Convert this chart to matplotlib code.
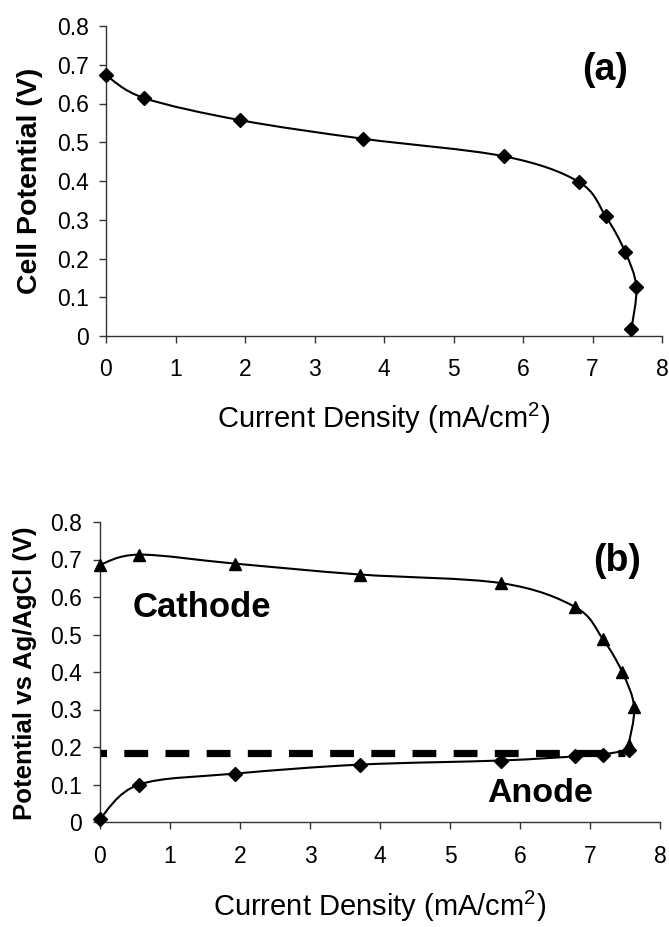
import numpy as np
import matplotlib
matplotlib.use("Agg")
import matplotlib.pyplot as plt
from matplotlib.path import Path
from matplotlib.patches import PathPatch
from matplotlib.ticker import FuncFormatter

plt.rcParams['font.family'] = ['Liberation Sans', 'DejaVu Sans']
plt.rcParams['mathtext.fontset'] = 'custom'
plt.rcParams['mathtext.rm'] = 'Liberation Sans'
plt.rcParams['mathtext.it'] = 'Liberation Sans:italic'
plt.rcParams['mathtext.bf'] = 'Liberation Sans:bold'

# ---- data ----
cell_x = [0.0, 0.55, 1.93, 3.70, 5.72, 6.80, 7.19, 7.47, 7.63, 7.56]
cell_y = [0.673, 0.614, 0.557, 0.509, 0.464, 0.398, 0.309, 0.217, 0.127, 0.018]

cath_x = [0.0, 0.56, 1.93, 3.71, 5.73, 6.79, 7.18, 7.46, 7.63, 7.55]
cath_y = [0.686, 0.713, 0.689, 0.660, 0.637, 0.573, 0.489, 0.400, 0.307, 0.205]

anode_x = [0.0, 0.56, 1.93, 3.71, 5.73, 6.79, 7.18, 7.55]
anode_y = [0.009, 0.100, 0.129, 0.153, 0.164, 0.175, 0.180, 0.192]

ref_x = [0.0, 7.5]
ref_y = [0.184, 0.184]

x_ticks = [0, 1, 2, 3, 4, 5, 6, 7, 8]
y_ticks = [0.0, 0.1, 0.2, 0.3, 0.4, 0.5, 0.6, 0.7, 0.8]

xlabel = "Current Density (mA/cm$^{2}$)"
ylabel_a = "Cell Potential (V)"
ylabel_b = "Potential vs Ag/AgCl (V)"


def smooth_path(xs, ys):
    pts = np.column_stack([xs, ys]).astype(float)
    n = len(pts)
    verts = [pts[0]]
    codes = [Path.MOVETO]
    for i in range(n - 1):
        p0 = pts[i - 1] if i > 0 else pts[i]
        p1 = pts[i]
        p2 = pts[i + 1]
        p3 = pts[i + 2] if i + 2 < n else pts[i + 1]
        c1 = p1 + (p2 - p0) / 6.0
        c2 = p2 - (p3 - p1) / 6.0
        verts += [c1, c2, p2]
        codes += [Path.CURVE4] * 3
    return Path(verts, codes)


def style_axes(ax, pad_y, pad_x):
    ax.set_xlim(0, 8)
    ax.set_ylim(0, 0.8)
    ax.set_xticks(x_ticks)
    ax.set_yticks(y_ticks)
    ax.yaxis.set_major_formatter(FuncFormatter(lambda v, p: f"{v:g}"))
    for s in ['top', 'right']:
        ax.spines[s].set_visible(False)
    for s in ['left', 'bottom']:
        ax.spines[s].set_linewidth(1.0)
        ax.spines[s].set_color('0.2')
    ax.tick_params(axis='both', direction='out', length=5, width=1.0,
                   color='0.2', labelsize=16.5)
    ax.tick_params(axis='y', pad=pad_y)
    ax.tick_params(axis='x', pad=pad_x)


def draw_series(ax, xs, ys, marker, ms):
    patch = PathPatch(smooth_path(xs, ys), fill=False, lw=1.5, ec='black',
                      transform=ax.transData, clip_on=False, zorder=3)
    ax.add_patch(patch)
    ax.plot(xs, ys, linestyle='none', marker=marker, ms=ms, color='black',
            mec='black', clip_on=False, zorder=4)


fig = plt.figure(figsize=(6.69, 9.27), dpi=100)

# ---- panel (a) ----
ax1 = fig.add_axes([106 / 669, 1 - 336 / 927, 556 / 669, 310 / 927])
style_axes(ax1, pad_y=7.5, pad_x=11)
draw_series(ax1, cell_x, cell_y, 'D', 7.3)
ax1.set_xlabel(xlabel, fontsize=21, va='baseline')
ax1.xaxis.set_label_coords(0.5, (336 - 428) / 310)
ax1.set_ylabel(ylabel_a, fontsize=20.5, fontweight='bold', va='baseline')
ax1.yaxis.set_label_coords((37 - 106) / 556, 0.502)
ax1.text((605 - 106) / 556, (336 - 70) / 310, "(a)", transform=ax1.transAxes,
         fontsize=27, fontweight='bold', ha='center', va='center')

# ---- panel (b) ----
ax2 = fig.add_axes([100 / 669, 1 - 822 / 927, 560 / 669, 300 / 927])
style_axes(ax2, pad_y=8, pad_x=11.5)
ax2.plot(ref_x, ref_y, color='black', lw=5.2,
         linestyle=(2.4, (3.3, 2.4)), solid_capstyle='butt', zorder=2)
draw_series(ax2, anode_x, anode_y, 'D', 7.3)
draw_series(ax2, cath_x, cath_y, '^', 9)
ax2.set_xlabel(xlabel, fontsize=21, va='baseline')
ax2.xaxis.set_label_coords(0.5, (822 - 916) / 300)
ax2.set_ylabel(ylabel_b, fontsize=18.5, fontweight='bold', va='baseline')
ax2.yaxis.set_label_coords((32 - 100) / 560, 0.495)
ax2.text((617 - 100) / 560, (822 - 561) / 300, "(b)", transform=ax2.transAxes,
         fontsize=27, fontweight='bold', ha='center', va='center')
ax2.text((202 - 100) / 560, (822 - 617) / 300, "Cathode", transform=ax2.transAxes,
         fontsize=25, fontweight='bold', ha='center', va='baseline')
ax2.text((540 - 100) / 560, (822 - 802) / 300, "Anode", transform=ax2.transAxes,
         fontsize=24.5, fontweight='bold', ha='center', va='baseline')

fig.savefig("out.png", dpi=100)
